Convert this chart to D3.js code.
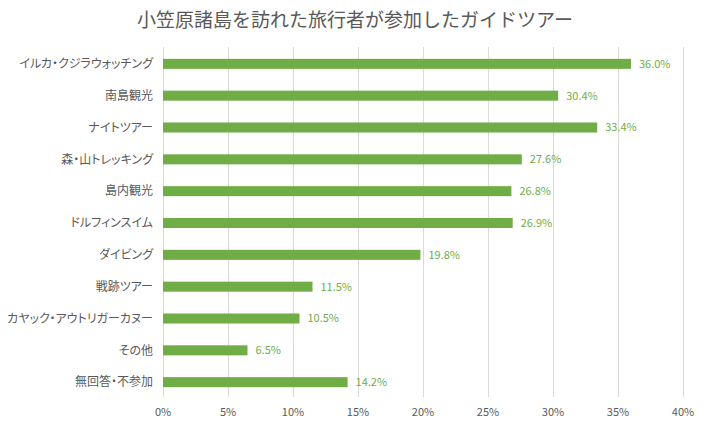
<!DOCTYPE html>
<html>
<head>
<meta charset="utf-8">
<script src="https://cdn.jsdelivr.net/npm/d3@7"></script>
<style>
  body { margin: 0; background: #fff; }
  svg { font-family: "Noto Sans CJK JP", "Noto Sans", sans-serif; }
  .cat { font-feature-settings: "palt"; }
</style>
</head>
<body>
<svg id="chart" width="709" height="428"></svg>
<script>
const categories = [
  "イルカ・クジラウォッチング", "南島観光", "ナイトツアー", "森・山トレッキング",
  "島内観光", "ドルフィンスイム", "ダイビング", "戦跡ツアー",
  "カヤック・アウトリガーカヌー", "その他", "無回答・不参加"
]
const values = [36.0, 30.4, 33.4, 27.6, 26.8, 26.9, 19.8, 11.5, 10.5, 6.5, 14.2]
const ticks = [0, 5, 10, 15, 20, 25, 30, 35, 40]
const title = "小笠原諸島を訪れた旅行者が参加したガイドツアー"

const svg = d3.select("#chart")
const plotLeft = 163, plotRight = 683, plotTop = 48, plotBottom = 398

const x = d3.scaleLinear().domain([0, 40]).range([plotLeft, plotRight])
const y = d3.scaleBand().domain(categories).range([plotTop, plotBottom]).paddingInner(0.685).paddingOuter(0.34)

svg.append("text")
  .attr("x", 355)
  .attr("y", 27)
  .attr("text-anchor", "middle")
  .attr("fill", "#595959")
  .style("font-size", "19px")
  .text(title)

// gridlines
svg.append("g")
  .selectAll("line")
  .data(ticks)
  .enter()
  .append("line")
  .attr("x1", d => x(d) + 0.5)
  .attr("x2", d => x(d) + 0.5)
  .attr("y1", plotTop - 1)
  .attr("y2", plotBottom - 1)
  .attr("stroke", "#d9d9d9")
  .attr("stroke-width", 1)

// tick labels
svg.append("g")
  .selectAll("text")
  .data(ticks)
  .enter()
  .append("text")
  .attr("x", d => x(d))
  .attr("y", 416)
  .attr("text-anchor", "middle")
  .attr("fill", "#595959")
  .style("font-size", "11px")
  .text(d => d + "%")

// category labels
svg.append("g")
  .selectAll("text")
  .data(categories)
  .enter()
  .append("text")
  .attr("class", "cat")
  .attr("x", 153)
  .attr("y", d => y(d) + y.bandwidth() / 2)
  .attr("dy", "0.35em")
  .attr("text-anchor", "end")
  .attr("fill", "#595959")
  .style("font-size", "12px")
  .text(d => d)

// bars
svg.append("g")
  .selectAll("rect")
  .data(categories)
  .enter()
  .append("rect")
  .attr("x", x(0))
  .attr("y", d => y(d))
  .attr("width", (d, i) => x(values[i]) - x(0))
  .attr("height", y.bandwidth())
  .attr("fill", "#70ad47")

// value labels
svg.append("g")
  .selectAll("text")
  .data(categories)
  .enter()
  .append("text")
  .attr("x", (d, i) => x(values[i]) + 8)
  .attr("y", d => y(d) + y.bandwidth() / 2)
  .attr("dy", "0.35em")
  .attr("fill", "#70ad47")
  .style("font-size", "11px")
  .text((d, i) => values[i].toFixed(1) + "%")
</script>
</body>
</html>
